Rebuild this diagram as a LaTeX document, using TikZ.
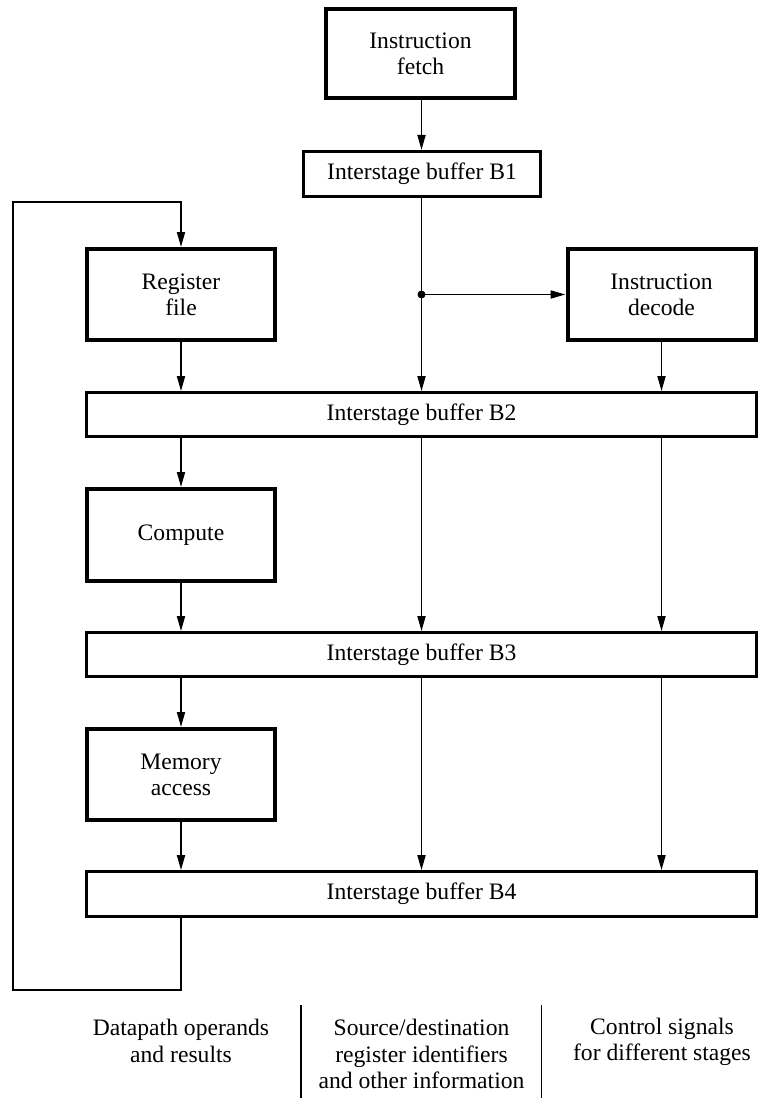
\documentclass[tikz,border=0pt]{standalone}
\usepackage{fontspec}
\setmainfont{Liberation Serif}
\usetikzlibrary{arrows.meta}
\begin{document}
\begin{tikzpicture}[x=1pt,y=-1pt,
  txt/.style={font=\fontsize{23.6}{26}\selectfont, align=center, inner sep=0pt},
  stagebox/.style={txt, draw, line width=4pt, minimum width=188pt, minimum height=91pt},
  bufbox/.style={txt, draw, line width=3.3pt, minimum height=43.5pt},
  wire/.style={line width=1.8pt},
  arr/.style={wire, -{Triangle[length=15pt,width=8pt]}},
  lbl/.style={font=\fontsize{23.6}{26.5}\selectfont, align=center, inner sep=0pt}]
\useasboundingbox (0,0) rectangle (760,1098);

% stages
\node[stagebox, minimum width=189pt, minimum height=89.5pt] (fetch) at (420.5,53.5) {Instruction\\fetch};
\node[bufbox, minimum width=237pt, minimum height=44.8pt] (B1) at (422,174) {Interstage buffer B1};
\node[stagebox] (reg) at (181,294.5) {Register\\file};
\node[stagebox] (decode) at (661.5,294.5) {Instruction\\decode};
\node[bufbox, minimum width=670pt] (B2) at (421.5,414.5) {Interstage buffer B2};
\node[stagebox, minimum height=92pt] (compute) at (181,535) {Compute};
\node[bufbox, minimum width=670pt] (B3) at (421.5,654.5) {Interstage buffer B3};
\node[stagebox] (memory) at (181,774.5) {Memory\\access};
\node[bufbox, minimum width=670pt, minimum height=44.5pt] (B4) at (421.5,894) {Interstage buffer B4};

% column reference coordinates
\coordinate (c2) at (421.5,0);
\coordinate (c3) at (661.5,0);

% connectors
\draw[arr] (fetch.south -| c2) -- (B1.north -| c2);
\draw[arr] (B1.south -| c2) -- (B2.north -| c2);
\coordinate (j) at (decode.west -| c2);
\fill (j) circle (4pt);
\draw[arr] (j) -- (decode.west);
\draw[arr] (reg.south) -- (B2.north -| reg.south);
\draw[arr] (decode.south) -- (B2.north -| decode.south);

\draw[arr] (B2.south -| reg.south) -- (compute.north);
\draw[arr] (B2.south -| c2) -- (B3.north -| c2);
\draw[arr] (B2.south -| c3) -- (B3.north -| c3);
\draw[arr] (compute.south) -- (B3.north -| compute.south);

\draw[arr] (B3.south -| reg.south) -- (memory.north);
\draw[arr] (B3.south -| c2) -- (B4.north -| c2);
\draw[arr] (B3.south -| c3) -- (B4.north -| c3);
\draw[arr] (memory.south) -- (B4.north -| memory.south);

% feedback loop
\coordinate (lo1) at (181,990);
\coordinate (lo2) at (12.7,990);
\coordinate (lo3) at (12.7,202);
\coordinate (lo4) at (181,202);
\draw[arr, line join=miter] (B4.south -| lo1) -- (lo1) -- (lo2) -- (lo3) -- (lo4) -- (reg.north);

% bottom labels
\node[lbl] (l1) at (181,1041) {Datapath operands\\and results};
\node[lbl] (l2) at (421.5,1054) {Source/destination\\register identifiers\\and other information};
\node[lbl] (l3) at (662,1042) {Control signals\\for different stages};
\coordinate (d1a) at (301,1005);
\coordinate (d1b) at (301,1098);
\coordinate (d2a) at (541.5,1005);
\coordinate (d2b) at (541.5,1098);
\draw[wire] (d1a) -- (d1b);
\draw[wire] (d2a) -- (d2b);
\end{tikzpicture}
\end{document}
